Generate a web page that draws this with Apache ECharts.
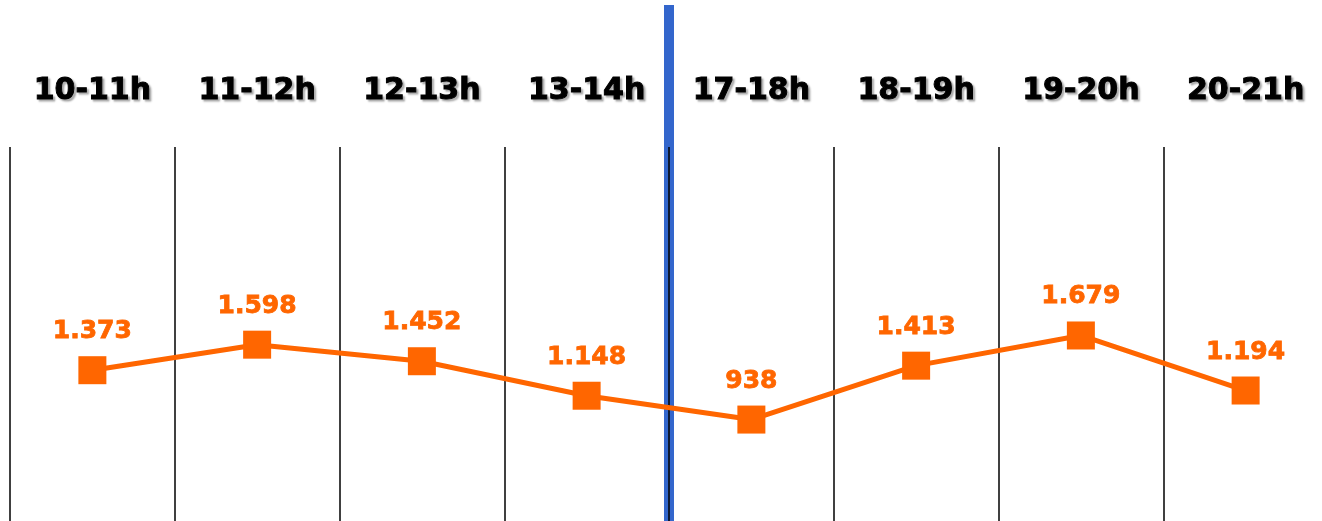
<!DOCTYPE html>
<html><head><meta charset="utf-8">
<script src="https://cdn.jsdelivr.net/npm/echarts@6/dist/echarts.min.js"></script>
<style>html,body{margin:0;padding:0;background:#fff}#c{width:1322px;height:521px}</style>
</head><body><div id="c"></div>
<script>
const categories = ['10-11h','11-12h','12-13h','13-14h','17-18h','18-19h','19-20h','20-21h'];
const visitors = [1373, 1598, 1452, 1148, 938, 1413, 1679, 1194];
const dividerAt = 4; // boundary between 13-14h and 17-18h

function fmt(v){ return String(v).replace(/\B(?=(\d{3})+(?!\d))/g, '.'); }

const chart = echarts.init(document.getElementById('c'), null, {renderer:'canvas'});
chart.setOption({
  animation:false,
  backgroundColor:'#fff',
  grid:[
    {left:10, width:1318, top:147, bottom:-5, outerBoundsMode:'none', containLabel:false},
    {left:10, width:1318, top:5, bottom:0, outerBoundsMode:'none', containLabel:false}
  ],
  xAxis:[
    {type:'category', gridIndex:0, position:'top', data:categories, boundaryGap:true, z:1,
     axisLine:{show:false}, axisTick:{show:false},
     axisLabel:{margin:41, color:'#000', fontFamily:'DejaVu Sans', fontWeight:'bold', fontSize:30,
       textBorderColor:'#000', textBorderWidth:1,
       textShadowColor:'rgba(0,0,0,0.3)', textShadowOffsetX:2, textShadowOffsetY:2, textShadowBlur:2},
     splitLine:{show:true, lineStyle:{color:'#000', width:1.5}}},
    {type:'value', gridIndex:1, min:0, max:categories.length, show:false}
  ],
  yAxis:[
    {type:'value', gridIndex:0, min:0, max:3340, show:false, splitLine:{show:false}},
    {type:'value', gridIndex:1, min:0, max:1, show:false}
  ],
  series:[
    {type:'line', xAxisIndex:1, yAxisIndex:1, z:-1, symbol:'none',
     data:[[dividerAt,0],[dividerAt,1]], lineStyle:{color:'#3366CC', width:10}, silent:true},
    {type:'line', xAxisIndex:0, yAxisIndex:0, data:visitors, z:3,
     symbol:'rect', symbolSize:28,
     itemStyle:{color:'#FF6600'},
     lineStyle:{color:'#FF6600', width:5},
     label:{show:true, position:'top', distance:12, color:'#FF6600', fontFamily:'DejaVu Sans', fontWeight:'bold', fontSize:25,
       textBorderColor:'#FF6600', textBorderWidth:0.8,
       formatter:p=>fmt(p.value)}}
  ]
});
</script></body></html>
